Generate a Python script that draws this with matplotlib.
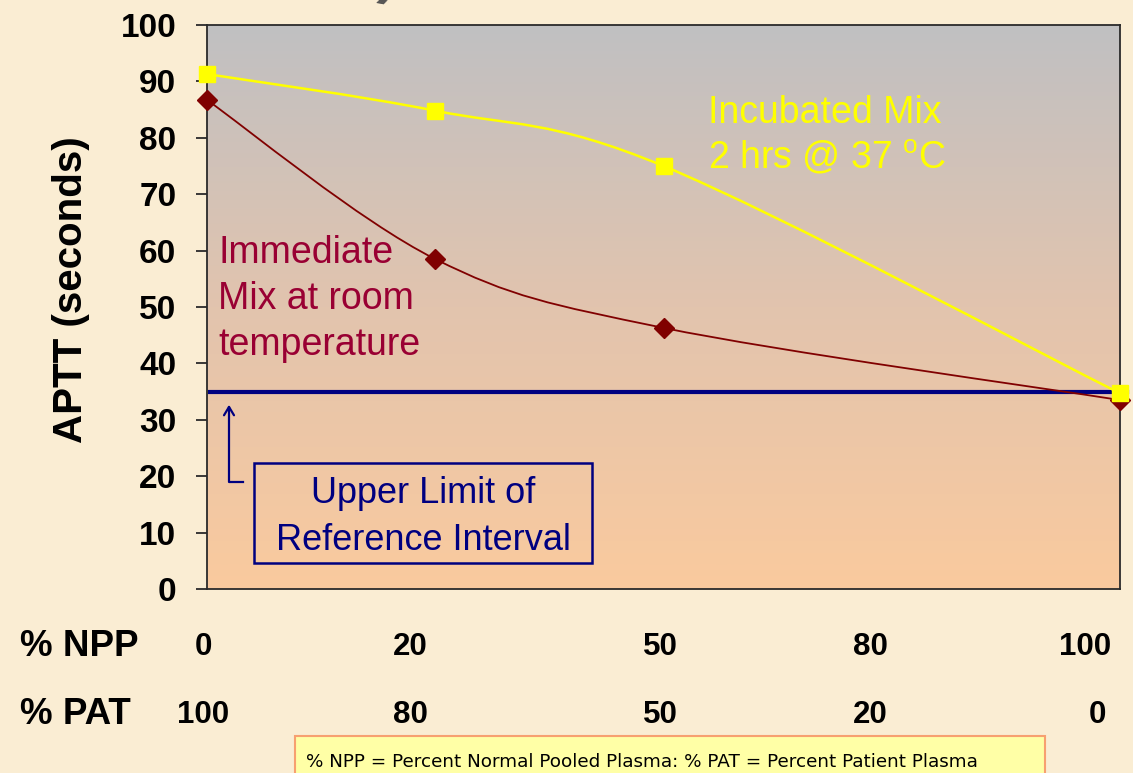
import numpy as np
import matplotlib
matplotlib.use("Agg")
import matplotlib.pyplot as plt
from matplotlib.path import Path
from matplotlib.patches import PathPatch, Rectangle, FancyArrowPatch
from matplotlib.colors import LinearSegmentedColormap

# ---------------- data ----------------
npp_labels = ["0", "20", "50", "80", "100"]
pat_labels = ["100", "80", "50", "20", "0"]
point_index = [0, 1, 2, 4]                 # categories that carry a measurement
immediate_mix = [86.7, 58.5, 46.3, 33.5]   # APTT (s), immediate mix at room temp
incubated_mix = [91.3, 84.8, 75.0, 34.7]   # APTT (s), incubated 2 h @ 37 C
upper_limit = 35.0                         # upper limit of reference interval
y_ticks = [0, 10, 20, 30, 40, 50, 60, 70, 80, 90, 100]

# ---------------- layout ----------------
W, H, DPI = 1133, 773, 100
BG = "#FAEDD3"
fig = plt.figure(figsize=(W / DPI, H / DPI), dpi=DPI, facecolor=BG)
ax_l, ax_r, ax_t, ax_b = 207, 1120, 25, 589
ax = fig.add_axes([ax_l / W, 1 - ax_b / H, (ax_r - ax_l) / W, (ax_b - ax_t) / H])
ax.set_xlim(0, 4)
ax.set_ylim(0, 100)

# gradient plot area
cmap = LinearSegmentedColormap.from_list("g", ["#FACA9E", "#E2C4AE", "#C0C0C2"])
grad = np.linspace(0, 1, 256).reshape(-1, 1)
ax.imshow(grad, extent=[0, 4, 0, 100], origin="lower", aspect="auto",
          cmap=cmap, zorder=0, interpolation="bicubic")

for s in ax.spines.values():
    s.set_color("#2a2a2a")
    s.set_linewidth(1.3)

ax.set_xticks([])
ax.set_yticks(y_ticks)
ax.tick_params(axis="y", direction="out", length=8, width=1.3, color="#2a2a2a",
               pad=14, labelsize=24)
for lab in ax.get_yticklabels():
    lab.set_fontweight("bold")
    lab.set_fontfamily("Liberation Sans")
ax.set_ylabel("APTT (seconds)", fontsize=29, fontweight="bold",
              family="Liberation Sans")
ax.yaxis.set_label_coords(-(ax_l - 90) / (ax_r - ax_l), (589 - 290) / (589 - 25))


def smooth_path(xs, ys):
    pts = list(zip(xs, ys))
    n = len(pts)
    verts = [pts[0]]
    codes = [Path.MOVETO]
    for i in range(n - 1):
        p0 = np.array(pts[max(i - 1, 0)])
        p1 = np.array(pts[i])
        p2 = np.array(pts[i + 1])
        p3 = np.array(pts[min(i + 2, n - 1)])
        c1 = p1 + (p2 - p0) / 6.0
        c2 = p2 - (p3 - p1) / 6.0
        verts += [tuple(c1), tuple(c2), tuple(p2)]
        codes += [Path.CURVE4] * 3
    return Path(verts, codes)


# reference line
ax.axhline(upper_limit, xmin=0.003, xmax=1.008, color="#000080", lw=3.0,
           zorder=2, clip_on=False)

# immediate mix
ax.add_patch(PathPatch(smooth_path(point_index, immediate_mix), fill=False,
                       edgecolor="#800000", lw=1.3, zorder=3, clip_on=False))
ax.plot(point_index, immediate_mix, ls="none", marker="D", ms=10.5,
        mfc="#800000", mec="#800000", zorder=3.5, clip_on=False)

# incubated mix
ax.add_patch(PathPatch(smooth_path(point_index, incubated_mix), fill=False,
                       edgecolor="#FFFF00", lw=1.8, zorder=4, clip_on=False))
ax.plot(point_index, incubated_mix, ls="none", marker="s", ms=12,
        mfc="#FFFF00", mec="#FFFF00", zorder=4.5, clip_on=False)


def fx(px):
    return px / W


def fy(py):
    return 1 - py / H


for txt, base in [("Immediate", 263), ("Mix at room", 309), ("temperature", 355)]:
    fig.text(fx(218), fy(base), txt, color="#990033", fontsize=27,
             family="Liberation Sans", va="baseline", ha="left")

fig.text(fx(708), fy(123), "Incubated Mix", color="#FFFF00", fontsize=27,
         family="Liberation Sans", va="baseline", ha="left")
fig.text(fx(708), fy(168), "2 hrs @ 37 $^{\\mathregular{o}}$C", color="#FFFF00",
         fontsize=27, family="Liberation Sans", va="baseline", ha="left")

# reference interval box
fig.patches.append(Rectangle((fx(254), fy(563)), fx(592) - fx(254), fy(463) - fy(563),
                             transform=fig.transFigure, fill=False,
                             edgecolor="#000080", lw=1.8, zorder=5))
fig.text(fx(423), fy(503), "Upper Limit of", color="#000080", fontsize=26,
         family="Liberation Sans", va="baseline", ha="center")
fig.text(fx(423), fy(550), "Reference Interval", color="#000080", fontsize=26,
         family="Liberation Sans", va="baseline", ha="center")
fig.lines.append(plt.Line2D([fx(243), fx(229), fx(229)], [fy(482), fy(482), fy(408)],
                            transform=fig.transFigure, color="#000080", lw=1.6))
fig.patches.append(FancyArrowPatch((fx(229), fy(412)), (fx(229), fy(402)),
                                   transform=fig.transFigure,
                                   arrowstyle="->,head_length=0.5,head_width=0.3",
                                   mutation_scale=12, color="#000080", lw=1.6))

# bottom category rows
label_x = [203, 410, 660, 870, 1085]
fig.text(fx(20), fy(646), "% NPP", fontsize=26.5, fontweight="bold",
         family="Liberation Sans", va="center", ha="left")
fig.text(fx(20), fy(714), "% PAT", fontsize=26.5, fontweight="bold",
         family="Liberation Sans", va="center", ha="left")
for x, a, b in zip(label_x, npp_labels, pat_labels):
    fig.text(fx(x), fy(647), a, fontsize=22.5, fontweight="bold",
             family="Liberation Sans", va="center", ha="center")
    fig.text(fx(x if b != "0" else 1097), fy(715), b, fontsize=22.5, fontweight="bold",
             family="Liberation Sans", va="center", ha="center")

# footnote box
fig.patches.append(Rectangle((fx(295), fy(775)), fx(1045) - fx(295), fy(736) - fy(775),
                             transform=fig.transFigure, facecolor="#FFFFA6",
                             edgecolor="#F7A070", lw=1.5, zorder=5))
fig.text(fx(306), fy(767), "% NPP = Percent Normal Pooled Plasma: % PAT = Percent Patient Plasma",
         fontsize=13.2, family="DejaVu Sans", va="baseline", ha="left", zorder=6)

# remnant of the slide title at the top edge
fig.text(fx(390), fy(-6), ")", fontsize=40, color="#555555", family="Liberation Sans",
         fontweight="bold", va="baseline", ha="center", rotation=-10)

fig.savefig("out.png", dpi=DPI, facecolor=BG)
